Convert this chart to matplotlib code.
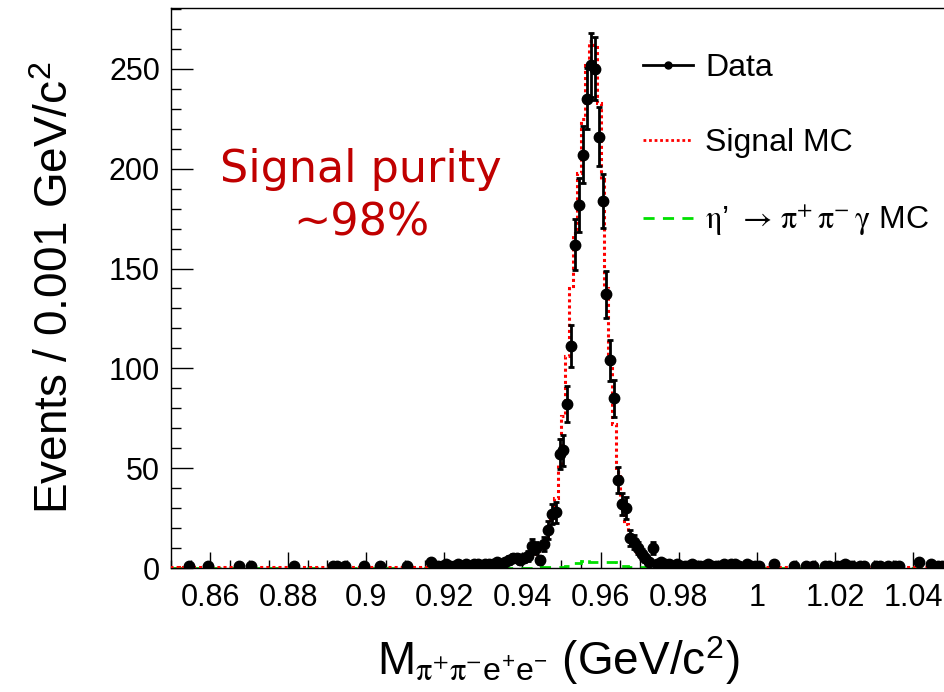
#!/usr/bin/env python3

import matplotlib
matplotlib.use("Agg")
import matplotlib.pyplot as plt
import numpy as np
from matplotlib.lines import Line2D
from matplotlib.ticker import MultipleLocator, FuncFormatter

plt.rcParams["font.family"] = ["Liberation Sans", "DejaVu Sans"]
plt.rcParams["mathtext.fontset"] = "stix"

# 200 bins of 0.001 GeV/c^2 from 0.85 to 1.05
x_lo, x_hi, n_bins = 0.85, 1.05, 200

data_counts = [
    0, 0, 0, 0, 1, 0, 0, 0, 0, 1,
    0, 0, 0, 0, 0, 0, 0, 1, 0, 0,
    1, 0, 0, 0, 0, 0, 0, 0, 0, 0,
    0, 1, 0, 0, 0, 0, 0, 0, 0, 0,
    0, 1, 1, 0, 1, 0, 0, 0, 0, 1,
    0, 0, 0, 1, 0, 0, 0, 0, 0, 0,
    1, 0, 0, 0, 0, 0, 3, 1, 1, 1,
    2, 1, 1, 2, 1, 2, 1, 2, 2, 1,
    2, 2, 2, 3, 2, 3, 4, 5, 5, 4,
    5, 6, 11, 10, 4, 12, 19, 27, 28, 57,
    59, 82, 111, 162, 182, 207, 235, 252, 250, 216,
    184, 137, 104, 85, 44, 32, 30, 15, 13, 10,
    7, 5, 3, 10, 2, 3, 2, 2, 1, 2,
    1, 1, 1, 2, 1, 1, 1, 2, 1, 1,
    1, 2, 1, 2, 2, 1, 0, 2, 1, 1,
    1, 0, 0, 0, 2, 0, 0, 0, 0, 1,
    0, 0, 1, 0, 1, 0, 0, 1, 1, 0,
    1, 1, 2, 1, 1, 0, 1, 1, 0, 0,
    1, 1, 0, 1, 0, 1, 1, 0, 0, 0,
    0, 3, 0, 0, 2, 0, 1, 1, 0, 0,
]

signal_mc = [
    0.3, 0.3, 0.2, 0.3, 0.3, 0.3, 0.3, 0.3, 0.3, 0.3,
    0.3, 0.3, 0.3, 0.3, 0.3, 0.3, 0.3, 0.3, 0.3, 0.3,
    0.3, 0.3, 0.3, 0.4, 0.3, 0.3, 0.4, 0.3, 0.4, 0.4,
    0.4, 0.4, 0.4, 0.4, 0.4, 0.4, 0.4, 0.4, 0.4, 0.4,
    0.4, 0.4, 0.4, 0.4, 0.4, 0.4, 0.5, 0.4, 0.5, 0.5,
    0.5, 0.5, 0.5, 0.5, 0.5, 0.5, 0.5, 0.5, 0.5, 0.5,
    0.5, 0.6, 0.6, 0.6, 0.7, 0.7, 0.8, 0.8, 0.9, 0.9,
    1.0, 1.0, 1.1, 1.2, 1.2, 1.3, 1.4, 1.5, 1.6, 1.7,
    1.8, 2.0, 2.1, 2.3, 2.5, 2.7, 3.0, 3.2, 3.5, 3.9,
    4.3, 5.0, 5.8, 6.8, 8.5, 11, 16, 24, 35, 52,
    76, 106, 140, 168, 198, 225, 252, 264, 262, 233,
    195, 140, 105, 72, 48, 33, 22, 15, 10, 7,
    5.0, 4.0, 3.0, 2.4, 2.0, 1.7, 1.5, 1.3, 1.2, 1.1,
    1.0, 1.0, 0.9, 0.9, 0.8, 0.8, 0.8, 0.7, 0.7, 0.7,
    0.7, 0.6, 0.6, 0.6, 0.6, 0.6, 0.5, 0.5, 0.5, 0.5,
    0.5, 0.5, 0.5, 0.5, 0.5, 0.5, 0.5, 0.4, 0.4, 0.4,
    0.4, 0.4, 0.4, 0.4, 0.4, 0.4, 0.4, 0.4, 0.4, 0.4,
    0.4, 0.4, 0.4, 0.3, 0.3, 0.3, 0.3, 0.3, 0.3, 0.3,
    0.3, 0.3, 0.3, 0.3, 0.3, 0.3, 0.3, 0.3, 0.3, 0.3,
    0.3, 0.3, 0.3, 0.3, 0.3, 0.3, 0.3, 0.3, 0.3, 0.3,
]

pipigam_mc = [
    0.2, 0.2, 0.2, 0.2, 0.2, 0.2, 0.2, 0.2, 0.2, 0.2,
    0.2, 0.2, 0.2, 0.2, 0.2, 0.2, 0.2, 0.2, 0.2, 0.2,
    0.2, 0.2, 0.2, 0.2, 0.2, 0.2, 0.2, 0.2, 0.2, 0.2,
    0.2, 0.2, 0.2, 0.2, 0.2, 0.2, 0.2, 0.2, 0.2, 0.2,
    0.2, 0.2, 0.2, 0.2, 0.2, 0.2, 0.2, 0.2, 0.2, 0.2,
    0.2, 0.2, 0.2, 0.2, 0.2, 0.2, 0.2, 0.2, 0.2, 0.2,
    0.2, 0.2, 0.2, 0.2, 0.2, 0.2, 0.2, 0.2, 0.2, 0.2,
    0.2, 0.2, 0.2, 0.2, 0.2, 0.2, 0.2, 0.2, 0.2, 0.2,
    0.2, 0.2, 0.2, 0.2, 0.2, 0.2, 0.2, 0.2, 0.2, 0.2,
    0.2, 0.2, 0.2, 0.2, 0.3, 0.3, 0.4, 0.5, 0.6, 0.7,
    0.7, 0.8, 2.0, 2.3, 2.5, 3.5, 4.5, 3.2, 3.0, 3.0,
    3.0, 3.0, 3.0, 2.8, 1.0, 1.0, 0.8, 0.5, 0.3, 0.3,
    0.3, 0.3, 0.3, 0.3, 0.2, 0.2, 0.2, 0.2, 0.2, 0.2,
    0.2, 0.2, 0.2, 0.2, 0.2, 0.2, 0.2, 0.2, 0.2, 0.2,
    0.2, 0.2, 0.2, 0.2, 0.2, 0.2, 0.2, 0.2, 0.2, 0.2,
    0.2, 0.2, 0.2, 0.2, 0.2, 0.2, 0.2, 0.2, 0.2, 0.2,
    0.2, 0.2, 0.2, 0.2, 0.2, 0.2, 0.2, 0.2, 0.2, 0.2,
    0.2, 0.2, 0.2, 0.2, 0.2, 0.2, 0.2, 0.2, 0.2, 0.2,
    0.2, 0.2, 0.2, 0.2, 0.2, 0.2, 0.2, 0.2, 0.2, 0.2,
    0.2, 0.2, 0.2, 0.2, 0.2, 0.2, 0.2, 0.2, 0.2, 0.2,
]

legend_labels = [
    "Data",
    "Signal MC",
    r"$\mathrm{\eta}$’ $\mathrm{\rightarrow\,\pi^{+}\,\pi^{-}\,\gamma}$ MC",
]


def main() -> None:
    edges = np.linspace(x_lo, x_hi, n_bins + 1)
    centers = 0.5 * (edges[:-1] + edges[1:])
    counts = np.array(data_counts, dtype=float)
    keep = counts > 0

    fig = plt.figure(figsize=(9.45, 6.92), dpi=100)
    ax = fig.add_axes([171 / 945, 124 / 692, 781 / 945, 560 / 692])

    ax.stairs(pipigam_mc, edges, color="#00e000", linestyle=(0, (4, 3)), lw=2.0, zorder=2)
    ax.stairs(signal_mc, edges, color="red", linestyle=(0, (1, 1)), lw=2.2, zorder=3)
    ax.errorbar(centers[keep], counts[keep], yerr=np.sqrt(counts[keep]),
                fmt="o", color="black", markersize=7.5, elinewidth=2.0,
                capsize=2.5, capthick=2.0, zorder=4)

    ax.set_xlim(x_lo, x_hi)
    ax.set_ylim(0, 280.5)

    ax.xaxis.set_major_locator(MultipleLocator(0.02))
    ax.xaxis.set_minor_locator(MultipleLocator(0.005))
    ax.yaxis.set_major_locator(MultipleLocator(50))
    ax.yaxis.set_minor_locator(MultipleLocator(10))
    ax.xaxis.set_major_formatter(FuncFormatter(lambda v, _: f"{v:.2f}".rstrip("0").rstrip(".")))

    ax.tick_params(axis="both", which="both", direction="in", width=1.0, labelsize=22)
    ax.tick_params(axis="y", which="major", length=16, pad=8)
    ax.tick_params(axis="y", which="minor", length=7)
    ax.tick_params(axis="x", which="major", length=11.5, pad=11)
    ax.tick_params(axis="x", which="minor", length=6)
    for sp in ax.spines.values():
        sp.set_linewidth(1.0)

    ax.set_ylabel(r"Events / 0.001 GeV/c$^{\mathregular{2}}$", fontsize=33, labelpad=22)
    ax.set_xlabel(r"M$_{\mathrm{\pi^{+}\pi^{-}}\mathregular{e^{+}e^{-}}}$ (GeV/c$^{\mathregular{2}}$)",
                  fontsize=33)
    ax.xaxis.set_label_coords((558 - 171) / 781, -(635 - 568) / 560)

    ax.text((361 - 171) / 781, (568 - 196) / 560, "Signal purity\n~98%",
            transform=ax.transAxes, ha="center", va="center", color="#c00000",
            fontsize=32, family="DejaVu Sans", linespacing=1.3)

    handles = [
        Line2D([0], [0], color="black", marker="o", markersize=5, lw=2),
        Line2D([0], [0], color="red", linestyle=(0, (1, 1)), lw=2),
        Line2D([0], [0], color="#00e000", linestyle=(0, (4, 3)), lw=2),
    ]
    ax.legend(handles, legend_labels, loc="upper left", bbox_to_anchor=(643 / 945, 1 - 53 / 692),
              bbox_transform=fig.transFigure, frameon=False, fontsize=23,
              handlelength=1.55, handletextpad=0.4, labelspacing=1.4, borderpad=0,
              borderaxespad=0)

    fig.savefig("out.png", dpi=100)
    plt.close(fig)


if __name__ == "__main__":
    main()
